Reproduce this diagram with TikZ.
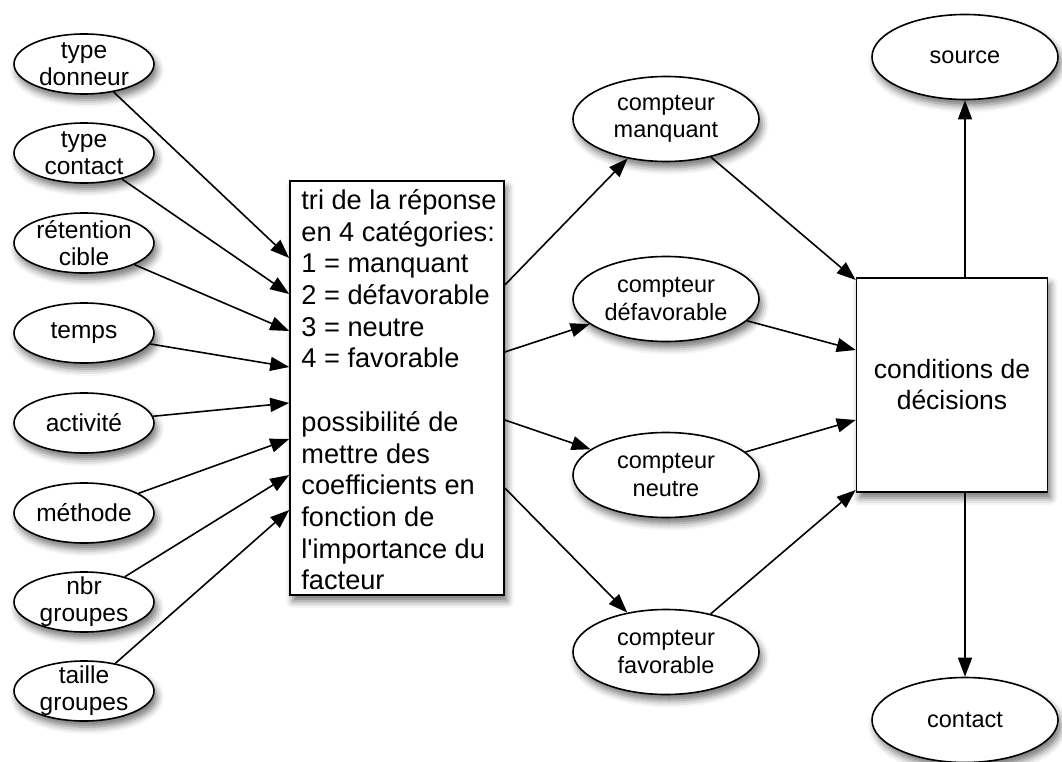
\documentclass[tikz,border=0pt]{standalone}
\usepackage{fontspec}
\setmainfont{Liberation Sans}
\usetikzlibrary{arrows.meta,shapes.geometric,shadows.blur}
\begin{document}
\begin{tikzpicture}[x=1pt,y=-1pt,
  dropshadow/.style={blur shadow={shadow xshift=3pt,shadow yshift=-6pt,shadow blur radius=7pt,shadow opacity=55}},
  ltxt/.style={align=center,inner sep=0pt,font=\fontsize{24.5}{27}\selectfont},
  ctxt/.style={align=center,inner sep=0pt,font=\fontsize{23.5}{27.5}\selectfont},
  lell/.style={ellipse,draw,fill=white,line width=1.6pt,minimum width=140pt,minimum height=60pt,inner sep=0pt,dropshadow,
    label={[ltxt]center:{#1}}},
  cell/.style={ellipse,draw,fill=white,line width=1.6pt,minimum width=186pt,minimum height=85pt,inner sep=0pt,dropshadow,
    label={[ctxt]center:{#1}}},
  boxed/.style={draw,fill=white,line width=1.6pt,inner sep=0pt,dropshadow},
  arr/.style={line width=1.6pt,-{Triangle[length=19pt,width=14pt]}}
]
\useasboundingbox (0,0) rectangle (1062,762);

% input factors
\node[lell={type\\donneur}] (td) at (84,64) {};
\node[lell={type\\contact}] (tc) at (84,153) {};
\node[lell={rétention\\cible}] (rc) at (84,243) {};
\node[lell={temps}] (tp) at (84,333) {};
\node[lell={activité}] (ac) at (84,423) {};
\node[lell={méthode}] (me) at (84,513) {};
\node[lell={nbr\\groupes}] (nb) at (84,602) {};
\node[lell={taille\\groupes}] (tg) at (84,691) {};

% sorting box
\node[boxed,minimum width=214pt,minimum height=414pt] (tri) at (397,388) {};
\node[anchor=north west,align=left,inner sep=0pt,font=\fontsize{27.2}{31.7}\selectfont] (tritxt)
  at ([xshift=12pt,yshift=-9pt]tri.north west)
  {tri de la réponse\\en 4 catégories:\\1 = manquant\\2 = défavorable\\3 = neutre\\4 = favorable\\[31.7pt]
   possibilité de\\mettre des\\coefficients en\\fonction de\\l\textquotesingle importance du\\facteur};

% counters
\node[cell={compteur\\manquant}] (cm) at (666,119) {};
\node[cell={compteur\\défavorable}] (cd) at (666,299) {};
\node[cell={compteur\\neutre}] (cn) at (666,475) {};
\node[cell={compteur\\favorable}] (cf) at (666,652) {};

% decision
\node[boxed,minimum width=191pt,minimum height=214pt,align=center,font=\fontsize{26.5}{31}\selectfont] (cond) at (952,385) {conditions de\\décisions};
\node[cell={source}] (src) at (965,57) {};
\node[cell={contact}] (con) at (965,720) {};

% factors into the sorting box
\draw[arr] (td) -- ([yshift=130pt]tri.west);
\draw[arr] (tc) -- ([yshift=94pt]tri.west);
\draw[arr] (rc) -- ([yshift=57pt]tri.west);
\draw[arr] (tp) -- ([yshift=21pt]tri.west);
\draw[arr] (ac) -- ([yshift=-15pt]tri.west);
\draw[arr] (me) -- ([yshift=-51pt]tri.west);
\draw[arr] (nb) -- ([yshift=-87pt]tri.west);
\draw[arr] (tg) -- ([yshift=-122pt]tri.west);

% sorting box to counters
\draw[arr] ([yshift=103pt]tri.east) -- (cm);
\draw[arr] ([yshift=36pt]tri.east) -- (cd);
\draw[arr] ([yshift=-32pt]tri.east) -- (cn);
\draw[arr] ([yshift=-100pt]tri.east) -- (cf);

% counters to decision
\draw[arr] (cm) -- ([yshift=105pt]cond.west);
\draw[arr] (cd) -- ([yshift=35pt]cond.west);
\draw[arr] (cn) -- ([yshift=-35pt]cond.west);
\draw[arr] (cf) -- ([yshift=-105pt]cond.west);

% outcomes
\draw[arr] ([xshift=13pt]cond.north) -- (src);
\draw[arr] ([xshift=13pt]cond.south) -- (con);
\end{tikzpicture}
\end{document}
